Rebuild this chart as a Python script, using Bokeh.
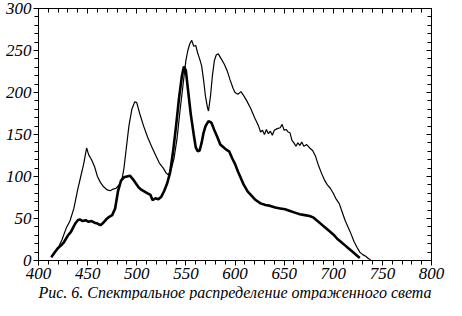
from bokeh.plotting import figure
from bokeh.models import Range1d, SingleIntervalTicker, LinearAxis, Title
from bokeh.embed import file_html
from bokeh.resources import INLINE

# Thin curve (upper spectrum)
thin_x = [413, 416, 420, 424, 428, 432, 436, 440, 443, 446, 449, 451, 454, 457, 460, 463, 466, 470, 473, 476,
          479, 482, 485, 487, 489, 492, 495, 498, 500, 503, 507, 511, 515, 519, 523, 527, 530, 532, 535, 538,
          541, 544, 547, 550, 552, 554, 556, 558, 560, 562, 564, 566, 568, 570, 572, 573, 575, 577, 579, 581,
          583, 586, 589, 592, 595, 598, 600, 603, 606, 609, 612, 616, 620, 624, 626, 628, 630, 632, 634, 636,
          638, 640, 643, 646, 648, 650, 652, 654, 656, 658, 660, 662, 664, 666, 668, 670, 673, 676, 679, 682,
          685, 688, 691, 694, 697, 700, 703, 706, 709, 712, 715, 718, 721, 724, 727, 730, 733, 736, 738]
thin_y = [4, 8, 15, 25, 38, 47, 62, 85, 100, 115, 134, 126, 120, 112, 100, 93, 88, 84, 83, 85,
          86, 90, 97, 110, 130, 160, 180, 189, 188, 175, 160, 147, 136, 126, 116, 110, 104, 102, 108, 122,
          145, 178, 208, 238, 250, 258, 262, 255, 256, 247, 240, 232, 215, 195, 182, 178, 195, 220, 238, 245,
          246, 240, 234, 226, 215, 205, 200, 198, 201, 196, 190, 181, 170, 160, 153, 155, 150, 156, 151, 154,
          149, 155, 157, 158, 162, 155, 156, 153, 152, 143, 140, 136, 140, 137, 141, 136, 138, 134, 131, 124,
          113, 104, 96, 90, 86, 80, 73, 68, 58, 48, 40, 32, 23, 16, 10, 7, 5, 2, 1]

# Thick curve (lower spectrum)
thick_x = [413, 416, 420, 423, 426, 430, 433, 436, 438, 440, 442, 445, 448, 451, 454, 457, 460, 463, 466, 469,
           472, 475, 478, 481, 484, 487, 490, 493, 496, 499, 502, 505, 508, 511, 514, 516, 519, 522, 525, 528,
           531, 534, 537, 540, 543, 546, 548, 550, 552, 555, 558, 560, 562, 564, 566, 568, 570, 573, 576, 579,
           582, 585, 588, 591, 594, 597, 600, 603, 606, 609, 613, 617, 621, 626, 631, 636, 641, 646, 651, 656,
           661, 666, 671, 676, 680, 684, 688, 692, 696, 700, 704, 708, 712, 716, 720, 724, 727]
thick_y = [4, 9, 15, 18, 22, 30, 34, 41, 45, 48, 49, 47, 48, 46, 47, 45, 44, 42, 45, 49,
           52, 54, 62, 83, 95, 99, 100, 101, 97, 92, 87, 84, 82, 80, 78, 72, 74, 73, 76, 83,
           92, 105, 130, 160, 193, 220, 231, 226, 205, 174, 150, 135, 130, 131, 140, 152, 160, 166, 164, 155,
           147, 138, 135, 132, 130, 122, 115, 106, 98, 90, 82, 77, 72, 68, 66, 65, 63, 62, 61, 59,
           57, 55, 54, 53, 51, 47, 43, 39, 35, 31, 26, 22, 18, 14, 10, 6, 3]

caption = "Рис. 6. Спектральное распределение отраженного света"

FONT = "Liberation Serif"

p = figure(width=446, height=300, output_backend="svg", toolbar_location=None,
           x_range=Range1d(400, 800), y_range=Range1d(0, 300),
           x_axis_type=None, y_axis_type=None,
           min_border_top=8, min_border_left=38, min_border_right=15, min_border_bottom=4)
p.background_fill_color = "white"
p.border_fill_color = "white"
p.outline_line_color = "black"
p.outline_line_width = 1

xt = SingleIntervalTicker(interval=50, num_minor_ticks=5)
yt = SingleIntervalTicker(interval=50, num_minor_ticks=5)

def style(ax, outside, labels):
    ax.axis_line_color = "black"
    ax.axis_line_width = 1
    ax.major_tick_line_color = "black"
    ax.minor_tick_line_color = "black"
    if outside:
        ax.major_tick_out = 5
        ax.major_tick_in = 0
        ax.minor_tick_out = 4
        ax.minor_tick_in = 0
    else:
        ax.major_tick_out = 0
        ax.major_tick_in = 5
        ax.minor_tick_out = 0
        ax.minor_tick_in = 4
    if labels:
        ax.major_label_text_font = FONT
        ax.major_label_text_font_style = "italic"
        ax.major_label_text_font_size = "17px"
        ax.major_label_text_color = "black"
        ax.major_label_standoff = 2
    else:
        ax.major_label_text_font_size = "0px"
        ax.major_label_text_color = None

bx = LinearAxis(ticker=xt); style(bx, True, True)
lx = LinearAxis(ticker=yt); style(lx, True, True)
tx = LinearAxis(ticker=xt); style(tx, False, False)
rx = LinearAxis(ticker=yt); style(rx, False, False)
p.add_layout(bx, "below")
p.add_layout(lx, "left")
p.add_layout(tx, "above")
p.add_layout(rx, "right")

p.xgrid.ticker = xt
p.ygrid.ticker = yt
p.xgrid.grid_line_color = "#222222"
p.ygrid.grid_line_color = "#222222"
p.xgrid.grid_line_width = 1
p.ygrid.grid_line_width = 1

p.line(thin_x, thin_y, line_color="black", line_width=1.2)
p.line(thick_x, thick_y, line_color="black", line_width=2.6)

t = Title(text=caption, align="center", text_font=FONT, text_font_style="italic",
          text_font_size="16px", text_color="black", standoff=0)
p.add_layout(t, "below")

open("out.html", "w").write(file_html(p, INLINE))
